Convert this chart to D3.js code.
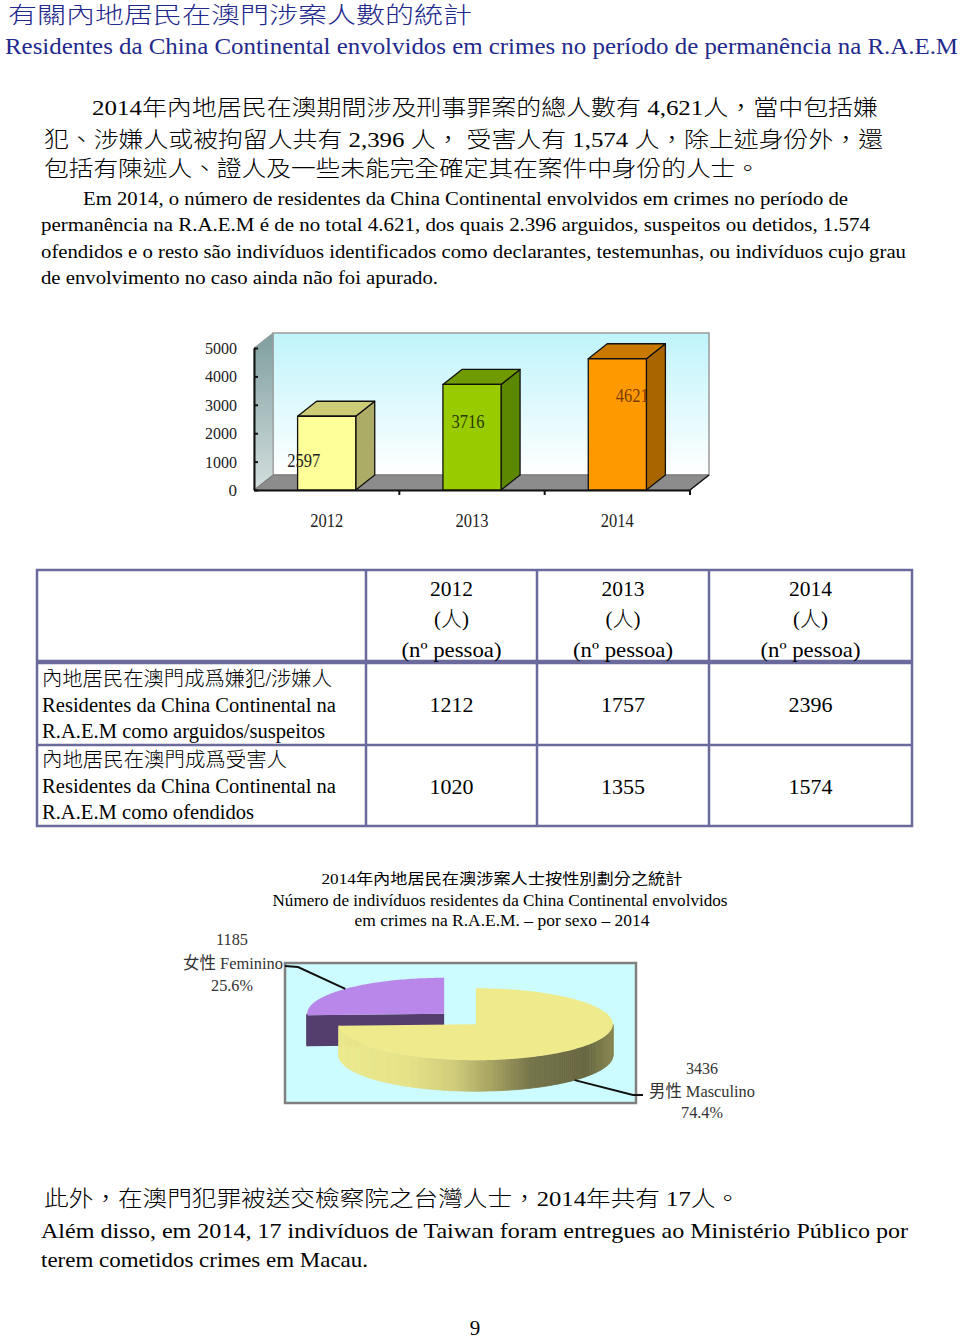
<!DOCTYPE html>
<html><head><meta charset="utf-8">
<script src="https://cdn.jsdelivr.net/npm/d3@7"></script>
<style>body{margin:0;background:#fff}svg{display:block}</style>
</head><body>
<svg id="c" width="960" height="1339"></svg>
<script>
// ---------- data ----------
const years = ["2012", "2013", "2014"];
const totals = [2597, 3716, 4621];
const yTicks = [0, 1000, 2000, 3000, 4000, 5000];
const suspects = [1212, 1757, 2396];
const victims = [1020, 1355, 1574];
const genderNames = ["男性 Masculino", "女性 Feminino"];
const genderValues = [3436, 1185];

const titleLines = ["有關內地居民在澳門涉案人數的統計",
  "Residentes da China Continental envolvidos em crimes no período de permanência na R.A.E.M"];
const paraZh = ["2014年內地居民在澳期間涉及刑事罪案的總人數有 4,621人，當中包括嫌",
  "犯、涉嫌人或被拘留人共有 2,396 人， 受害人有 1,574 人，除上述身份外，還",
  "包括有陳述人、證人及一些未能完全確定其在案件中身份的人士。"];
const paraPt = ["Em 2014, o número de residentes da China Continental envolvidos em crimes no período de",
  "permanência na R.A.E.M é de no total 4.621, dos quais 2.396 arguidos, suspeitos ou detidos,  1.574",
  "ofendidos e o resto são indivíduos identificados como declarantes, testemunhas, ou indivíduos cujo grau",
  "de envolvimento no caso ainda não foi apurado."];
const rowLabels = [
  ["內地居民在澳門成爲嫌犯/涉嫌人", "Residentes da China Continental na", "R.A.E.M como arguidos/suspeitos"],
  ["內地居民在澳門成爲受害人", "Residentes da China Continental na", "R.A.E.M como ofendidos"]];
const pieTitle = ["2014年內地居民在澳涉案人士按性別劃分之統計",
  "Número de indivíduos residentes da China Continental envolvidos",
  "em crimes na R.A.E.M. –  por sexo – 2014"];
const footZh = "此外，在澳門犯罪被送交檢察院之台灣人士，2014年共有 17人。";
const footPt = ["Além disso, em 2014, 17 indivíduos de Taiwan foram entregues ao Ministério Público por",
  "terem cometidos crimes em Macau."];

// ---------- styles ----------
const SERIF = "'Liberation Serif','Times New Roman','Noto Sans CJK TC',serif";
const NAVY = "#1f2a8c";
const barFront = ["#ffff99", "#99cc00", "#ff9900"];
const barTop = ["#cccc77", "#6f9a00", "#c97800"];
const barSide = ["#acac66", "#5c8700", "#a96500"];
const barLabelFill = ["#222", "#2a3a00", "#7a3c00"];

const svg = d3.select("#c");
svg.append("rect").attr("width", 960).attr("height", 1339).attr("fill", "#fff");
const defs = svg.append("defs");

function txt(g, x, y, s, o = {}) {
  const t = g.append("text").attr("x", x).attr("y", y).attr("dy", "0.35em")
    .attr("font-size", o.size || 18).attr("font-family", SERIF).attr("font-weight", o.weight || 400)
    .attr("fill", o.fill || "#000").attr("text-anchor", o.anchor || "start").text(s);
  if (o.len) t.attr("textLength", o.len).attr("lengthAdjust", "spacingAndGlyphs");
  return t;
}

// ---------- header text ----------
txt(svg, 8, 15, titleLines[0], {size: 23, len: 464, fill: NAVY, weight: 300});
txt(svg, 5, 46, titleLines[1], {size: 24, len: 953, fill: NAVY});
const zhPos = [[92, 107, 786], [44, 139, 839], [44, 168, 716]];
paraZh.forEach((s, i) => txt(svg, zhPos[i][0], zhPos[i][1], s, {size: 22, len: zhPos[i][2], weight: 300}));
const ptPos = [[83, 198, 765], [41, 224, 829], [41, 251, 865], [41, 277, 397]];
paraPt.forEach((s, i) => txt(svg, ptPos[i][0], ptPos[i][1], s, {size: 19, len: ptPos[i][2]}));

// ---------- 3D bar chart ----------
const bc = svg.append("g");
const y = d3.scaleLinear().domain([0, 5000]).range([490, 348]);
const x = d3.scaleBand().domain(years).range([254, 690]).paddingInner(0.6).paddingOuter(0.3);
const DX = 19, DY = -15;
const x0 = x.range()[0], x1 = x.range()[1], yb = y(0), yt = y(5000);

const gw = defs.append("linearGradient").attr("id", "wall").attr("x1", 0).attr("y1", 0).attr("x2", 0).attr("y2", 1);
gw.append("stop").attr("offset", 0).attr("stop-color", "#bff4fb");
gw.append("stop").attr("offset", 1).attr("stop-color", "#ffffff");
const gl = defs.append("linearGradient").attr("id", "lwall").attr("x1", 0).attr("y1", 0).attr("x2", 0).attr("y2", 1);
gl.append("stop").attr("offset", 0).attr("stop-color", "#7f9e9f");
gl.append("stop").attr("offset", 1).attr("stop-color", "#d3dede");

bc.append("rect").attr("x", x0 + DX).attr("y", yt + DY).attr("width", x1 - x0).attr("height", yb - yt)
  .attr("fill", "url(#wall)").attr("stroke", "#9a9a9a").attr("stroke-width", 1.5);
bc.append("path").attr("d", `M${x0},${yt}L${x0 + DX},${yt + DY}L${x0 + DX},${yb + DY}L${x0},${yb}Z`)
  .attr("fill", "url(#lwall)").attr("stroke", "#9a9a9a");
bc.append("path").attr("d", `M${x0},${yb}L${x0 + DX},${yb + DY}L${x1 + DX},${yb + DY}L${x1},${yb}Z`)
  .attr("fill", "#8c8c8c").attr("stroke", "#777");
bc.append("line").attr("x1", x1).attr("y1", yb).attr("x2", x1 + DX).attr("y2", yb + DY)
  .attr("stroke", "#111").attr("stroke-width", 1.5);

// y axis
const ya = bc.append("g").attr("transform", `translate(${x0},0)`)
  .call(d3.axisLeft(y).tickValues(yTicks).tickFormat(d3.format("d")).tickSizeInner(-4).tickSizeOuter(0).tickPadding(17));
ya.select(".domain").attr("stroke", "#111").attr("stroke-width", 2);
ya.selectAll(".tick line").attr("stroke", "#111").attr("stroke-width", 2);
ya.selectAll("text").attr("font-family", SERIF).attr("font-size", 17).attr("fill", "#222")
  .attr("textLength", 32).attr("lengthAdjust", "spacingAndGlyphs");
ya.selectAll(".tick").filter(d => d === 0).select("text").attr("textLength", null);

// x axis
const xa = bc.append("g").attr("transform", `translate(0,${yb})`)
  .call(d3.axisBottom(x).tickSize(0).tickPadding(24));
xa.select(".domain").attr("stroke", "#111").attr("stroke-width", 2);
xa.selectAll("text").attr("font-family", SERIF).attr("font-size", 18).attr("fill", "#222")
  .attr("textLength", 33).attr("lengthAdjust", "spacingAndGlyphs");
years.forEach((d, i) => {
  const bx = x0 + x.step() * (i + 1);
  bc.append("line").attr("x1", bx).attr("x2", bx).attr("y1", yb).attr("y2", yb + 5)
    .attr("stroke", "#111").attr("stroke-width", 2);
});

// bars
years.forEach((d, i) => {
  const bx = x(d), w = x.bandwidth(), ty = y(totals[i]);
  const g = bc.append("g").attr("stroke", "#111").attr("stroke-width", 1.3).attr("stroke-linejoin", "round");
  g.append("path").attr("d", `M${bx + w},${ty}L${bx + w + DX},${ty + DY}L${bx + w + DX},${yb + DY}L${bx + w},${yb}Z`).attr("fill", barSide[i]);
  g.append("path").attr("d", `M${bx},${ty}L${bx + DX},${ty + DY}L${bx + w + DX},${ty + DY}L${bx + w},${ty}Z`).attr("fill", barTop[i]);
  g.append("rect").attr("x", bx).attr("y", ty).attr("width", w).attr("height", yb - ty).attr("fill", barFront[i]);
  txt(bc, x(d) + w / 2 - 23 + 19 * i, ty + (i === 0 ? 44 : 37), d3.format("d")(totals[i]),
    {size: 18, anchor: "middle", len: 33, fill: barLabelFill[i]});
});

// ---------- table ----------
const tb = svg.append("g");
const TC = "#6a6a9c";
const colX = [37, 366, 537, 709, 912];
const rowY = [570, 662, 745, 826];
tb.append("rect").attr("x", colX[0]).attr("y", rowY[0]).attr("width", colX[4] - colX[0]).attr("height", rowY[3] - rowY[0])
  .attr("fill", "none").attr("stroke", TC).attr("stroke-width", 2.5);
colX.slice(1, 4).forEach(cx => tb.append("line").attr("x1", cx).attr("x2", cx).attr("y1", rowY[0]).attr("y2", rowY[3])
  .attr("stroke", TC).attr("stroke-width", 2.5));
tb.append("line").attr("x1", colX[0]).attr("x2", colX[4]).attr("y1", rowY[1]).attr("y2", rowY[1]).attr("stroke", TC).attr("stroke-width", 4.5);
tb.append("line").attr("x1", colX[0]).attr("x2", colX[4]).attr("y1", rowY[2]).attr("y2", rowY[2]).attr("stroke", TC).attr("stroke-width", 2.5);
years.forEach((d, i) => {
  const cx = (colX[i + 1] + colX[i + 2]) / 2;
  txt(tb, cx, 588, d, {size: 22, anchor: "middle", len: 43});
  txt(tb, cx, 619, "(人)", {size: 21, anchor: "middle", weight: 300});
  txt(tb, cx, 649, "(nº pessoa)", {size: 22, anchor: "middle", len: 100});
  txt(tb, cx, 704, d3.format("d")(suspects[i]), {size: 22, anchor: "middle", len: 44});
  txt(tb, cx, 786, d3.format("d")(victims[i]), {size: 22, anchor: "middle", len: 44});
});
const labLens = [[290, 294, 283], [245, 294, 212]];
const labY = [[679, 705, 731], [760, 786, 812]];
rowLabels.forEach((r, ri) => r.forEach((s, li) =>
  txt(tb, 42, labY[ri][li], s, {size: 20, len: labLens[ri][li], weight: li === 0 ? 300 : 400})));

// ---------- pie ----------
const pg = svg.append("g");
const ptl = [[502, 879, 361, 15], [500, 900, 455, 16.5], [502, 920, 295, 16.5]];
pieTitle.forEach((s, i) => txt(pg, ptl[i][0], ptl[i][1], s, {size: ptl[i][3], anchor: "middle", len: ptl[i][2]}));
pg.append("rect").attr("x", 285).attr("y", 963).attr("width", 351).attr("height", 140)
  .attr("fill", "#ccfcff").attr("stroke", "#808080").attr("stroke-width", 2.5);

const total = d3.sum(genderValues);
const arcs = d3.pie().sort(null).value(d => d)(genderValues);
const PCX = 460, PCY = 1019, RX = 137, RY = 36, DEP = 31, EXP = 22;
const topFill = ["#efeb8c", "#b987ea"];
const femaleSide = "#533e6e";
// shading of the male rim as a function of horizontal position (0 = left edge, 1 = right edge)
const maleShade = d3.scaleLinear()
  .domain([0, 0.25, 0.42, 0.56, 0.7, 0.9, 1])
  .range(["#ecea8e", "#e6e288", "#d0cc7a", "#a6a260", "#76744a", "#686741", "#8a8852"]);

const pt = (cx, cy, a) => [cx + RX * Math.sin(a), cy - RY * Math.cos(a)];
const geo = arcs.map(a => {
  const mid = (a.startAngle + a.endAngle) / 2;
  return {a, cx: PCX + EXP * Math.sin(mid), cy: PCY - EXP * Math.cos(mid) * RY / RX * 1.3, mid};
});
function arcPts(cx, cy, a0, a1, dy = 0) {
  const n = Math.max(2, Math.ceil((a1 - a0) / 0.02));
  return d3.range(n + 1).map(k => { const p = pt(cx, cy, a0 + (a1 - a0) * k / n); return [p[0], p[1] + dy]; });
}
const line = d3.line();
[1, 0].forEach(i => {
  const {a, cx, cy} = geo[i];
  const g = pg.append("g");
  if (i === 1) {
    const p = pt(cx, cy, a.startAngle);
    g.append("path").attr("d", line([[cx, cy], p, [p[0], p[1] + DEP], [cx, cy + DEP]]) + "Z").attr("fill", femaleSide);
  }
  const s0 = Math.max(a.startAngle, Math.PI / 2), s1 = Math.min(a.endAngle, 3 * Math.PI / 2);
  if (s1 > s0) {
    const pts = arcPts(cx, cy, s0, s1);
    for (let k = 0; k < pts.length - 1; k++) {
      const p1 = pts[k], p2 = pts[k + 1];
      const fill = i === 0 ? maleShade(((p1[0] + p2[0]) / 2 - (cx - RX)) / (2 * RX)) : femaleSide;
      g.append("path").attr("d", line([p1, p2, [p2[0], p2[1] + DEP], [p1[0], p1[1] + DEP]]) + "Z")
        .attr("fill", fill).attr("stroke", fill).attr("stroke-width", 0.8);
    }
  }
  g.append("path").attr("d", line([[cx, cy]].concat(arcPts(cx, cy, a.startAngle, a.endAngle))) + "Z").attr("fill", topFill[i]);
});

// leader lines & labels
const fP = pt(geo[1].cx, geo[1].cy, geo[1].mid);
pg.append("path").attr("d", line([[285, 966], [298, 967], fP])).attr("fill", "none").attr("stroke", "#111").attr("stroke-width", 2);
const mP = pt(geo[0].cx, geo[0].cy, geo[0].mid);
pg.append("path").attr("d", line([[mP[0], mP[1] + DEP], [633, 1095], [643, 1095]])).attr("fill", "none").attr("stroke", "#111").attr("stroke-width", 2);
const pct = v => (v / total * 100).toFixed(1) + "%";
txt(pg, 232, 939, d3.format("d")(genderValues[1]), {size: 17, anchor: "middle", len: 32, fill: "#333"});
txt(pg, 233, 963, genderNames[1], {size: 17, anchor: "middle", len: 100, fill: "#333"});
txt(pg, 232, 985, pct(genderValues[1]), {size: 17, anchor: "middle", len: 42, fill: "#333"});
txt(pg, 702, 1068, d3.format("d")(genderValues[0]), {size: 17, anchor: "middle", len: 32, fill: "#333"});
txt(pg, 702, 1091, genderNames[0], {size: 17, anchor: "middle", len: 106, fill: "#333"});
txt(pg, 702, 1112, pct(genderValues[0]), {size: 17, anchor: "middle", len: 42, fill: "#333"});

// ---------- footer ----------
txt(svg, 44, 1198, footZh, {size: 22, len: 696, weight: 300});
txt(svg, 41, 1230, footPt[0], {size: 22, len: 867});
txt(svg, 41, 1259, footPt[1], {size: 22, len: 327});
txt(svg, 475, 1328, "9", {size: 21, anchor: "middle"});
</script>
</body></html>
